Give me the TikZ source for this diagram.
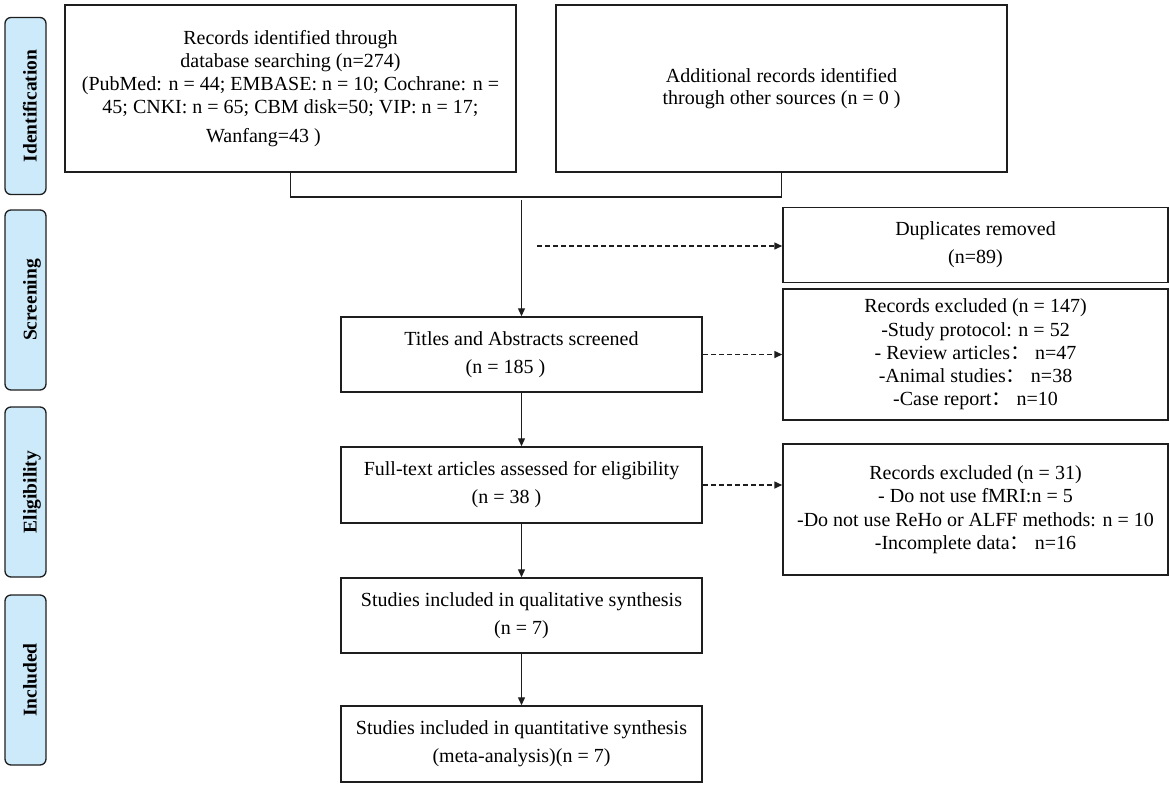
\documentclass[tikz,border=0pt]{standalone}
\usepackage{fontspec}
\setmainfont{Liberation Serif}
\newfontfamily\cjk{Noto Sans CJK SC}
\usetikzlibrary{arrows.meta}
\definecolor{sidefill}{RGB}{205,234,250}
\definecolor{linec}{RGB}{30,30,30}
\newcommand{\sidetxt}[1]{\raisebox{-11pt}[0pt][0pt]{#1}}
\tikzset{
  box/.style={draw=linec, line width=1.5pt, fill=white, align=center, inner sep=2pt,
    font=\fontsize{20}{23}\selectfont},
  side/.style={draw=linec, line width=1.3pt, fill=sidefill, rounded corners=6pt,
    rotate=90, font=\fontsize{19.5}{22}\selectfont\bfseries},
  conn/.style={draw=linec, line width=1.3pt},
  arr/.style={conn, -{Triangle[length=8pt,width=7pt]}},
  darr/.style={draw=linec, line width=1.5pt, dash pattern=on 5pt off 3pt, -{Triangle[length=8pt,width=7pt]}},
}
\begin{document}
\begin{tikzpicture}[x=1pt,y=-1pt]
\useasboundingbox (0,0) rectangle (1170,788);
% sidebars
\node[side, minimum height=41pt, minimum width=177pt] (sid) at (25.5,106) {\sidetxt{Identification}};
\node[side, minimum height=41pt, minimum width=180pt] (sscr) at (25.5,300) {\sidetxt{Screening}};
\node[side, minimum height=41pt, minimum width=170pt] (selg) at (25.5,492) {\sidetxt{Eligibility}};
\node[side, minimum height=41pt, minimum width=170pt] (sinc) at (25.5,680) {\sidetxt{Included}};
% boxes
\node[box, minimum width=451pt, minimum height=167pt] (rec) at (290.5,88.5)
  {Records identified through\\database searching (n=274)\hspace*{16pt}\\(PubMed: n = 44; EMBASE: n = 10; Cochrane: n =\\45; CNKI: n = 65; CBM disk=50; VIP: n = 17;\\[6pt]Wanfang=43 )\hspace*{54pt}};
\node[box, minimum width=451pt, minimum height=167pt, font=\fontsize{20}{22}\selectfont] (add) at (781.5,88.5)
  {Additional records identified\\through other sources (n = 0 )};
\node[box, minimum width=385pt, minimum height=75pt, font=\fontsize{20}{28}\selectfont] (dup) at (975.5,245)
  {Duplicates removed\\(n=89)};
\node[box, minimum width=385pt, minimum height=131pt, font=\fontsize{20}{23.3}\selectfont] (ex1) at (975.5,354.5)
  {Records excluded (n = 147)\\-Study protocol: n = 52\\- Review articles{\cjk ：}\ n=47\\-Animal studies{\cjk ：}\ n=38\\-Case report{\cjk ：}\ n=10};
\node[box, minimum width=385pt, minimum height=131pt, font=\fontsize{20}{23.5}\selectfont] (ex2) at (975.5,509.5)
  {Records excluded (n = 31)\\- Do not use fMRI:n = 5\\-Do not use ReHo or ALFF methods: n = 10\\-Incomplete data{\cjk ：}\ n=16};
\node[box, minimum width=361pt, minimum height=75pt, font=\fontsize{20}{28}\selectfont] (tit) at (521.5,354.5)
  {Titles and Abstracts screened\\(n = 185 )\hspace*{32pt}};
\node[box, minimum width=361pt, minimum height=76pt, font=\fontsize{20}{28}\selectfont] (ful) at (521.5,485)
  {Full-text articles assessed for eligibility\\(n = 38 )\hspace*{30pt}};
\node[box, minimum width=361pt, minimum height=75pt, font=\fontsize{20}{28}\selectfont] (qua) at (521.5,615.5)
  {Studies included in qualitative synthesis\\(n = 7)};
\node[box, minimum width=361pt, minimum height=76pt, font=\fontsize{20}{28}\selectfont] (qnt) at (521.5,744)
  {Studies included in quantitative synthesis\\(meta-analysis)(n = 7)};
% connectors
\coordinate (j1) at (290.5,197);
\coordinate (j2) at (781.5,197);
\coordinate (jm) at (521.5,200);
\coordinate (d0) at (537,246);
\draw[conn] (rec.south) -- (j1) -- (j2) -- (add.south);
\draw[arr] (jm) -- (tit.north);
\draw[darr] (d0) -- (d0 -| dup.west);
\draw[darr] (tit.east) -- (ex1.west);
\draw[darr] (ful.east) -- (ful.east -| ex2.west);
\draw[arr] (tit.south) -- (ful.north);
\draw[arr] (ful.south) -- (qua.north);
\draw[arr] (qua.south) -- (qnt.north);
\end{tikzpicture}
\end{document}
